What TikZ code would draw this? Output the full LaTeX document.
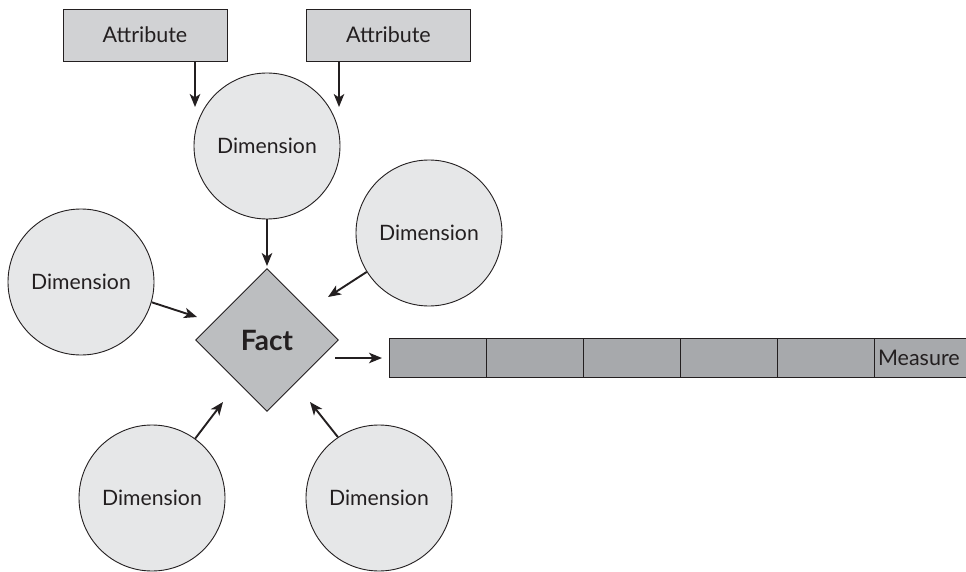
\documentclass[tikz,border=0pt]{standalone}
\usepackage{fontspec}
\setmainfont{Lato}
\usetikzlibrary{shapes.geometric,arrows.meta}
\definecolor{attrfill}{HTML}{D1D2D4}
\definecolor{dimfill}{HTML}{E6E7E8}
\definecolor{factfill}{HTML}{BCBEC0}
\definecolor{barfill}{HTML}{A7A9AC}
\definecolor{ink}{HTML}{231F20}
\begin{document}
\begin{tikzpicture}[x=1pt,y=-1pt,
  attrbox/.style={draw=ink,line width=0.9pt,fill=attrfill,minimum width=164pt,minimum height=52pt,inner sep=0pt,font=\fontsize{21.5}{26}\selectfont,text=ink},
  dimnode/.style={circle,draw=ink,line width=0.9pt,fill=dimfill,minimum size=146pt,inner sep=0pt,font=\fontsize{21.2}{25}\selectfont,text=ink},
  factnode/.style={diamond,aspect=1,draw=ink,line width=0.9pt,fill=factfill,minimum width=143pt,minimum height=143pt,inner sep=0pt,font=\fontsize{28}{32}\selectfont\bfseries,text=ink},
  cellbox/.style={fill=barfill,minimum width=97pt,minimum height=39pt,inner sep=0pt,outer sep=0pt},
  conn/.style={draw=ink,line width=1.9pt,-{Stealth[length=13pt,width=10.5pt,inset=3.5pt]}}
]
\useasboundingbox (0,0) rectangle (966,572);
% attributes
\node[attrbox] (attrL) at (145,35) {Attribute};
\node[attrbox] (attrR) at (388.5,35) {Attribute};
% dimensions
\node[dimnode] (dimT) at (267,146) {Dimension};
\node[dimnode] (dimR) at (429,233) {Dimension};
\node[dimnode] (dimL) at (81,282) {Dimension};
\node[dimnode] (dimBL) at (152,498) {Dimension};
\node[dimnode] (dimBR) at (379,498) {Dimension};
% fact
\node[factnode] (fact) at (267,340) {Fact};
% measure bar
\node[cellbox,draw=ink,line width=0.9pt] (m1) at (437.5,358) {};
\node[cellbox,draw=ink,line width=0.9pt] (m2) at (534.5,358) {};
\node[cellbox,draw=ink,line width=0.9pt] (m3) at (631.5,358) {};
\node[cellbox,draw=ink,line width=0.9pt] (m4) at (728.5,358) {};
\node[cellbox,draw=ink,line width=0.9pt] (m5) at (825.5,358) {};
\node[cellbox,anchor=west,minimum width=94pt,font=\fontsize{21.5}{26}\selectfont,text=ink,text width=88pt,align=left,inner xsep=4pt] (m6) at (m5.east) {Measure};
\draw[ink,line width=0.9pt] (m6.north east) -- (m6.north west) -- (m6.south west) -- (m6.south east);
% tip coordinates
\coordinate (tA) at (195,107);
\coordinate (tB) at (339,107);
\coordinate (tR) at (328,297);
\coordinate (tL) at (197,317);
\coordinate (sF) at (335,358);
\coordinate (tBL) at (223,402);
\coordinate (tBR) at (310,402);
% connectors
\draw[conn] ([xshift=50pt]attrL.south) -- (tA);
\draw[conn] ([xshift=-49.5pt]attrR.south) -- (tB);
\draw[conn,shorten >=2pt] (dimT.south) -- (fact.north);
\draw[conn] (dimR.212) -- (tR);
\draw[conn] (dimL.-16) -- (tL);
\draw[conn,shorten >=7pt] (sF) -- (m1.west);
\draw[conn] (dimBL.54) -- (tBL);
\draw[conn] (dimBR.124) -- (tBR);
\end{tikzpicture}
\end{document}
